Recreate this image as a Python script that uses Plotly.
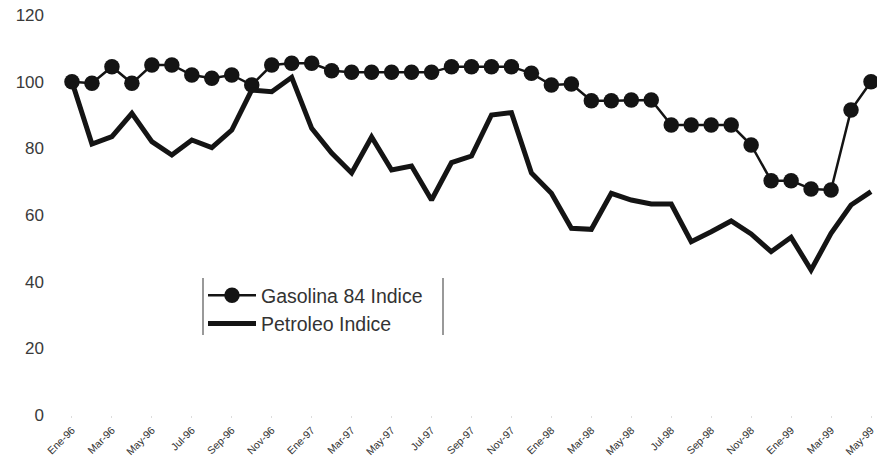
import plotly.graph_objects as go

# Monthly index values, Ene-96 .. May-99
months = [
    "Ene-96", "Feb-96", "Mar-96", "Abr-96", "May-96", "Jun-96", "Jul-96", "Ago-96",
    "Sep-96", "Oct-96", "Nov-96", "Dic-96",
    "Ene-97", "Feb-97", "Mar-97", "Abr-97", "May-97", "Jun-97", "Jul-97", "Ago-97",
    "Sep-97", "Oct-97", "Nov-97", "Dic-97",
    "Ene-98", "Feb-98", "Mar-98", "Abr-98", "May-98", "Jun-98", "Jul-98", "Ago-98",
    "Sep-98", "Oct-98", "Nov-98", "Dic-98",
    "Ene-99", "Feb-99", "Mar-99", "Abr-99", "May-99",
]

gasolina_84 = [
    100, 99.5, 104.5, 99.5, 105, 105, 102, 101, 102, 99, 105, 105.5,
    105.5, 103.3, 102.8, 102.8, 102.8, 102.8, 102.8, 104.5, 104.5, 104.5, 104.5, 102.5,
    99, 99.3, 94.3, 94.3, 94.5, 94.5, 87, 87, 87, 87, 81, 70.3,
    70.3, 67.8, 67.5, 91.5, 100,
]

petroleo = [
    100, 81.3, 83.5, 90.5, 82, 78, 82.5, 80.2, 85.5, 97.5, 97, 101.3,
    86, 78.6, 72.6, 83.4, 73.5, 74.7, 64.5, 75.7, 77.7, 90, 90.7, 72.6,
    66.5, 56, 55.7, 66.5, 64.5, 63.3, 63.3, 52, 55, 58.2, 54.3, 49,
    53.3, 43.5, 54.5, 63, 67,
]

tick_labels = months[::2]
y_ticks = [0, 20, 40, 60, 80, 100, 120]

ink = "#141414"

fig = go.Figure()
fig.add_trace(go.Scatter(
    x=months, y=gasolina_84, name="Gasolina 84 Indice",
    mode="lines+markers",
    line=dict(color=ink, width=2.5),
    marker=dict(color=ink, size=15.5),
))
fig.add_trace(go.Scatter(
    x=months, y=petroleo, name="Petroleo Indice",
    mode="lines",
    line=dict(color=ink, width=5),
))

L, R, T, B = 50, 0, 15, 48
W, H = 877, 463
pw, ph = W - L - R, H - T - B


def px_x(x):
    return (x - L) / pw


def px_y(y):
    return (H - B - y) / ph


# legend frame: only the two vertical sides are drawn
shapes = [
    dict(type="line", xref="paper", yref="paper",
         x0=px_x(x), x1=px_x(x), y0=px_y(278), y1=px_y(335),
         line=dict(color="#555", width=1.2))
    for x in (203, 443)
]

fig.update_layout(
    width=W, height=H,
    margin=dict(l=L, r=R, t=T, b=B),
    paper_bgcolor="white", plot_bgcolor="white",
    font=dict(family="Liberation Sans, Arial, sans-serif", color="#3a3a3a"),
    showlegend=True,
    legend=dict(
        x=px_x(203), y=px_y(276), xanchor="left", yanchor="top",
        bgcolor="rgba(0,0,0,0)", borderwidth=0,
        font=dict(size=19.5, color="#333"),
        itemwidth=48, tracegroupgap=0,
    ),
    shapes=shapes,
    xaxis=dict(
        type="category",
        range=[-1.1, 40.3],
        tickmode="array", tickvals=tick_labels, ticktext=tick_labels,
        tickangle=-45, tickfont=dict(size=10.5, color="#333"),
        showgrid=False, showline=False, zeroline=False,
        ticks="outside", ticklen=2, tickcolor="#ddd",
        ticklabelstandoff=2, automargin=False,
    ),
    yaxis=dict(
        range=[0, 120], tickvals=y_ticks,
        tickfont=dict(size=17, color="#3a3a3a"),
        showgrid=False, showline=False, zeroline=False,
        ticks="", ticklabelstandoff=5, automargin=False,
    ),
)

fig.write_html("out.html")
